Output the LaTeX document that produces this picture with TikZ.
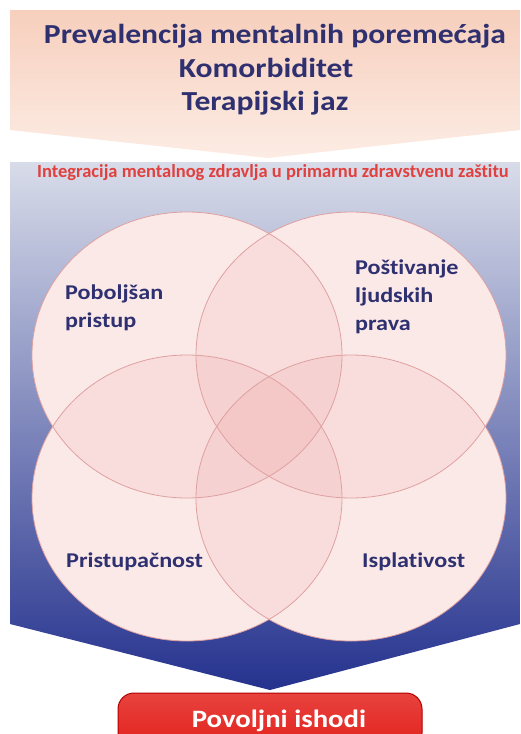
\documentclass[tikz,border=0pt]{standalone}
\usepackage{fontspec}
\setmainfont[Ligatures=NoCommon]{Carlito}
\newfontfamily\widesans[FakeStretch=1.15,Ligatures=NoCommon]{Carlito}
\usetikzlibrary{shapes.geometric}

\definecolor{navytxt}{HTML}{2E3070}
\definecolor{peachtop}{HTML}{F7CFBD}
\definecolor{peachbot}{HTML}{FCECE4}
\definecolor{paneltop}{HTML}{D8DCE9}
\definecolor{panelmid}{HTML}{8E9CD0}
\definecolor{panelbot}{HTML}{25328E}
\definecolor{petalbase}{HTML}{FEF6F5}
\definecolor{petaltint}{HTML}{D94A4A}
\definecolor{petalline}{HTML}{DFA0A0}
\definecolor{goodred}{HTML}{E3211C}
\definecolor{subred}{HTML}{E0403E}

\tikzset{
  petal/.style={ellipse,minimum width=310pt,minimum height=286pt,inner sep=0pt},
  areatxt/.style={font=\widesans\fontsize{21}{28}\selectfont\bfseries,text=navytxt,align=left,inner sep=0pt},
  titletxt/.style={font=\widesans\fontsize{27.5}{33}\selectfont\bfseries,text=navytxt,inner sep=0pt}
}

\begin{document}
\begin{tikzpicture}[x=1pt,y=-1pt]
\useasboundingbox (0,0) rectangle (520,734);

% top banner
\shade[top color=peachtop,bottom color=peachbot]
  (10,10) -- (520,10) -- (520,130) -- (268,158) -- (10,130) -- cycle;
\node (prev) at (275,43) [titletxt,anchor=base] {Prevalencija mentalnih poremećaja};
\node (komorb) at (266,77) [titletxt,anchor=base] {Komorbiditet};
\node (jaz) at (265,110) [titletxt,anchor=base] {Terapijski jaz};

% blue panel
\shade[top color=paneltop,middle color=panelmid,bottom color=panelbot]
  (10,162) -- (520,162) -- (520,624) -- (270,690) -- (10,624) -- cycle;
\node (integr) at (273,177) [anchor=base,inner sep=0pt,text=subred,
  font=\fontsize{18.5}{22}\selectfont\bfseries] {Integracija mentalnog zdravlja u primarnu zdravstvenu zaštitu};

% four petals
\node (tl) at (187,355) [petal,fill=petalbase] {};
\node (tr) at (351,355) [petal,fill=petalbase] {};
\node (bl) at (187,498) [petal,fill=petalbase] {};
\node (br) at (351,498) [petal,fill=petalbase] {};
\foreach \p in {tl,tr,bl,br}
  \fill[petaltint,fill opacity=.07] (\p.center) ellipse [x radius=155,y radius=143];
\foreach \p in {tl,tr,bl,br}
  \draw[petalline,line width=0.8pt] (\p.center) ellipse [x radius=155,y radius=143];

\node (pristup) at (65,327) [areatxt,anchor=base west] {Poboljšan\\pristup};
\node (prava) at (355,330) [areatxt,anchor=base west] {Poštivanje\\ljudskih\\prava};
\node (dostup) at (66,567) [areatxt,anchor=base west] {Pristupačnost};
\node (isplat) at (362,567) [areatxt,anchor=base west] {Isplativost};

% outcome
\node (ishodi) at (270,721) [rounded corners=16pt,draw=red!70!black,line width=1pt,
  top color=goodred!85!white,bottom color=goodred,minimum width=304pt,minimum height=56pt] {};
\node (ishtxt) at (279,727) [anchor=base,inner sep=0pt,text=white,
  font=\widesans\fontsize{25}{30}\selectfont\bfseries] {Povoljni ishodi};
\end{tikzpicture}
\end{document}
